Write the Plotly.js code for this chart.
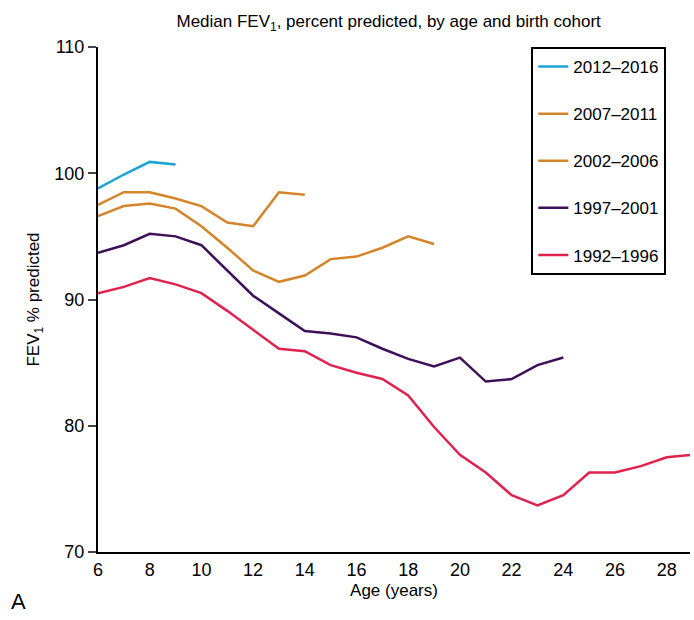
<!DOCTYPE html>
<html>
<head>
<script src="https://cdn.plot.ly/plotly-3.0.1.min.js"></script>
<style>body{margin:0;background:#fff}</style>
</head>
<body>
<div id="chart" style="width:694px;height:620px"></div>
<script>
// Ages and median FEV1 % predicted per birth cohort
const ages = [6,7,8,9,10,11,12,13,14,15,16,17,18,19,20,21,22,23,24,25,26,27,28,29];
const c2012 = [98.8, 99.9, 100.9, 100.7];
const c2007 = [97.5, 98.5, 98.5, 98.0, 97.4, 96.1, 95.8, 98.5, 98.3];
const c2002 = [96.6, 97.4, 97.6, 97.2, 95.8, 94.1, 92.3, 91.4, 91.9, 93.2, 93.4, 94.1, 95.0, 94.4];
const c1997 = [93.7, 94.3, 95.2, 95.0, 94.3, 92.3, 90.3, 88.9, 87.5, 87.3, 87.0, 86.1, 85.3, 84.7, 85.4, 83.5, 83.7, 84.8, 85.4];
const c1992 = [90.5, 91.0, 91.7, 91.2, 90.5, 89.1, 87.6, 86.1, 85.9, 84.8, 84.2, 83.7, 82.4, 79.9, 77.7, 76.3, 74.5, 73.7, 74.5, 76.3, 76.3, 76.8, 77.5, 77.7];
const names = ['2012\u20132016', '2007\u20132011', '2002\u20132006', '1997\u20132001', '1992\u20131996'];
const colors = ['#1ba3d6', '#d4852a', '#d4852a', '#3d1058', '#e0234e'];
const series = [c2012, c2007, c2002, c1997, c1992];

const data = series.map((ys, i) => ({
  type: 'scatter',
  mode: 'lines',
  x: ages.slice(0, ys.length),
  y: ys,
  name: names[i],
  legendgroup: 'g' + i,
  line: {color: colors[i], width: 2.5}
}));

const layout = {
  width: 694,
  height: 620,
  margin: {l: 98, r: 4, t: 47, b: 68},
  font: {family: 'Liberation Sans, Arial, sans-serif', size: 16, color: '#000'},
  title: {text: 'Median FEV<sub>1</sub>, percent predicted, by age and birth cohort', x: 0.56, y: 0.975, font: {size: 17}},
  xaxis: {
    range: [6, 28.9], tickvals: [6,8,10,12,14,16,18,20,22,24,26,28],
    showline: true, linecolor: '#000', linewidth: 2, ticks: 'outside', ticklen: 0,
    showgrid: false, zeroline: false, tickfont: {size: 18},
    title: {text: 'Age (years)', standoff: 6, font: {size: 17}}
  },
  yaxis: {
    range: [70, 110], tickvals: [70, 80, 90, 100, 110],
    showline: true, linecolor: '#000', linewidth: 2, ticks: 'outside', ticklen: 8, tickwidth: 1.5,
    showgrid: false, zeroline: false, tickfont: {size: 18},
    title: {text: 'FEV<sub>1</sub> % predicted', standoff: 10, font: {size: 17}}
  },
  legend: {
    x: 0.96, xanchor: 'right', y: 1, yanchor: 'top',
    bordercolor: '#000', borderwidth: 2, bgcolor: '#fff',
    traceorder: 'grouped', tracegroupgap: 22,
    font: {size: 17}
  },
  showlegend: true,
  annotations: [{text: 'A', xref: 'paper', yref: 'paper', x: -0.15, y: -0.07, yanchor: 'top', xanchor: 'left', showarrow: false, font: {size: 22}}]
};

Plotly.newPlot('chart', data, layout, {displayModeBar: false});
</script>
</body>
</html>
